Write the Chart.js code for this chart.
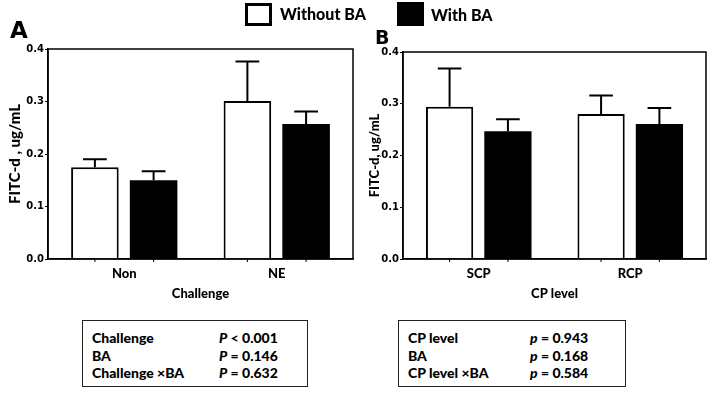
<!DOCTYPE html>
<html>
<head>
<meta charset="utf-8">
<script src="https://cdn.jsdelivr.net/npm/chart.js@4/dist/chart.umd.min.js"></script>
<style>
  body { margin: 0; background: #fff; }
  #wrap { position: relative; width: 709px; height: 402px; overflow: hidden; font-family: Lato, "Open Sans", sans-serif; font-weight: 900; color: #000; }
  canvas { position: absolute; top: 0; }
  .lbl { position: absolute; white-space: nowrap; }
  .swatch { position: absolute; box-sizing: border-box; border: 3px solid #000; }
  .stats { position: absolute; box-sizing: border-box; border: 1.5px solid #222; font-size: 14px; }
  .stats div { position: absolute; white-space: nowrap; }
  .stats i { font-style: italic; }
</style>
</head>
<body>
<div id="wrap">
  <canvas id="chartA" width="360" height="310" style="left:0"></canvas>
  <canvas id="chartB" width="354" height="310" style="left:355px"></canvas>

  <div class="swatch" style="left:245px;top:3px;width:27px;height:23px;background:#fff"></div>
  <div class="lbl" style="left:280px;top:4px;font-size:16px">Without BA</div>
  <div class="swatch" style="left:397px;top:2px;width:27px;height:24px;background:#000"></div>
  <div class="lbl" style="left:431px;top:5px;font-size:16px">With BA</div>

  <div class="lbl" style="left:10px;top:17px;font-size:23px;font-family:'DejaVu Sans';font-weight:700">A</div>
  <div class="lbl" style="left:375px;top:26px;font-size:19px;font-family:'DejaVu Sans';font-weight:700">B</div>

  <div class="stats" id="statsA" style="left:82px;top:320px;width:226px;height:67px"></div>
  <div class="stats" id="statsB" style="left:398px;top:320px;width:228px;height:67px"></div>
</div>
<script>
// panel A: challenge
const challengeCats = ['Non', 'NE'];
const withoutBA_A = [0.175, 0.301];
const withoutBA_A_err = [0.015, 0.075];
const withBA_A = [0.150, 0.257];
const withBA_A_err = [0.017, 0.024];

// panel B: CP level
const cpCats = ['SCP', 'RCP'];
const withoutBA_B = [0.294, 0.280];
const withoutBA_B_err = [0.074, 0.036];
const withBA_B = [0.247, 0.261];
const withBA_B_err = [0.023, 0.031];

const yTickLabels = ['0.0', '0.1', '0.2', '0.3', '0.4'];

// statistics tables
const statsA_terms = ['Challenge', 'BA', 'Challenge \u00d7BA'];
const statsA_p = ['< 0.001', '= 0.146', '= 0.632'];
const statsA_sym = 'P';
const statsB_terms = ['CP level', 'BA', 'CP level \u00d7BA'];
const statsB_p = ['= 0.943', '= 0.168', '= 0.584'];
const statsB_sym = 'p';

function fillStats(id, terms, pvals, sym, pLeft) {
    const box = document.getElementById(id);
    terms.forEach((t, i) => {
        const top = 8 + i * 17.5;
        box.innerHTML += `<div style="left:9px;top:${top}px">${t}</div>`;
        box.innerHTML += `<div style="left:${pLeft}px;top:${top}px"><i>${sym}</i> ${pvals[i]}</div>`;
    });
}
fillStats('statsA', statsA_terms, statsA_p, statsA_sym, 136);
fillStats('statsB', statsB_terms, statsB_p, statsB_sym, 131);

// error bars (upper only), frame and small x ticks at each bar
const extrasPlugin = {
    id: 'extras',
    afterDatasetsDraw(chart) {
        const ctx = chart.ctx;
        const yScale = chart.scales.y;
        const a = chart.chartArea;
        ctx.save();
        ctx.strokeStyle = '#000';
        chart.data.datasets.forEach((ds, di) => {
            const meta = chart.getDatasetMeta(di);
            meta.data.forEach((bar, i) => {
                const yTop = yScale.getPixelForValue(ds.data[i] + ds.errors[i]);
                const half = bar.width / 4;
                ctx.lineWidth = 2;
                ctx.beginPath();
                ctx.moveTo(bar.x, bar.y);
                ctx.lineTo(bar.x, yTop);
                ctx.moveTo(bar.x - half, yTop);
                ctx.lineTo(bar.x + half, yTop);
                ctx.stroke();
                // small tick under each bar
                ctx.lineWidth = 1;
                ctx.beginPath();
                ctx.moveTo(bar.x, a.bottom);
                ctx.lineTo(bar.x, a.bottom + 3);
                ctx.stroke();
            });
        });
        ctx.lineWidth = 1.5;
        ctx.strokeRect(a.left, a.top, a.right - a.left, a.bottom - a.top);
        ctx.restore();
    }
};

function makeChart(id, cats, d1, e1, d2, e2, xTitle, yTitle, pad, yW, yTitleSize, yTitlePad) {
    return new Chart(document.getElementById(id), {
        type: 'bar',
        data: {
            labels: cats,
            datasets: [
                { label: 'Without BA', data: d1, errors: e1, backgroundColor: '#fff', borderColor: '#000', borderWidth: 2 },
                { label: 'With BA', data: d2, errors: e2, backgroundColor: '#000', borderColor: '#000', borderWidth: 0 }
            ]
        },
        options: {
            responsive: false,
            animation: false,
            events: [],
            categoryPercentage: 0.77,
            barPercentage: 0.81,
            layout: { padding: pad },
            plugins: { legend: { display: false }, tooltip: { enabled: false } },
            scales: {
                x: {
                    grid: { display: false },
                    border: { display: true, color: '#000', width: 1.5 },
                    ticks: { color: '#000', font: { family: 'Lato', size: 13, weight: '900' }, padding: -1 },
                    title: { display: true, text: xTitle, color: '#000', font: { family: 'Lato', size: 13, weight: '900' }, padding: { top: 0, bottom: 8 } },
                    afterFit(s) { s.height = 51; }
                },
                y: {
                    min: 0, max: 0.4,
                    grid: { drawOnChartArea: false, drawTicks: true, tickLength: 3, color: '#000' },
                    border: { display: true, color: '#000', width: 1.5 },
                    ticks: {
                        stepSize: 0.1, padding: 1, color: '#000',
                        font: { family: 'DejaVu Sans', size: 10, weight: 'bold' },
                        callback: (v, i) => yTickLabels[i]
                    },
                    title: { display: true, text: yTitle, color: '#000', font: { family: 'Lato', size: yTitleSize, weight: '900' }, padding: { top: yTitlePad, bottom: 0 } },
                    afterFit(s) { s.width = yW; }
                }
            }
        },
        plugins: [extrasPlugin]
    });
}

makeChart('chartA', challengeCats, withoutBA_A, withoutBA_A_err, withBA_A, withBA_A_err,
    'Challenge', 'FITC-d , ug/mL', { top: 49, right: 7, left: 0, bottom: 0 }, 48, 15, 6);
makeChart('chartB', cpCats, withoutBA_B, withoutBA_B_err, withBA_B, withBA_B_err,
    'CP level', 'FITC-d, ug/mL', { top: 52, right: 3, left: 0, bottom: 0 }, 48, 13, 12);
</script>
</body>
</html>
